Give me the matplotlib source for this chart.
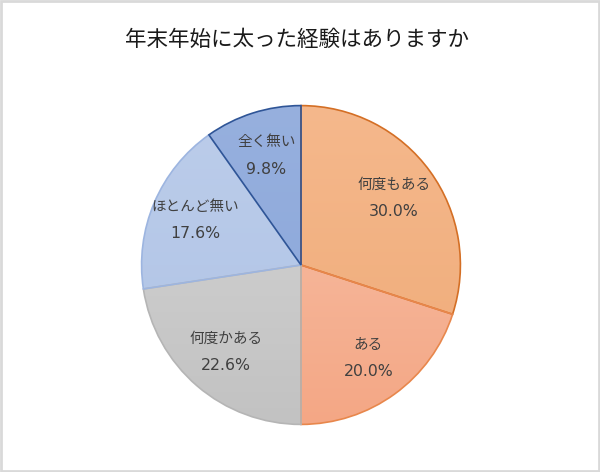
import numpy as np
import matplotlib.pyplot as plt
from matplotlib.colors import LinearSegmentedColormap
from matplotlib.patches import Rectangle
from matplotlib.transforms import offset_copy

plt.rcParams['font.family'] = ['Noto Sans CJK JP', 'DejaVu Sans']

# Data
labels = ['何度もある', 'ある', '何度かある', 'ほとんど無い', '全く無い']
values = [30.0, 20.0, 22.6, 17.6, 9.8]
title = '年末年始に太った経験はありますか'

# Styles (top colour, bottom colour, edge colour)
top_colors = ['#F5B88C', '#F7C2AA', '#D6D6D6', '#BCCDEA', '#97B0DE']
bottom_colors = ['#EFAB78', '#F4A785', '#C2C2C2', '#AFC3E6', '#88A5DA']
edge_colors = ['#D46F25', '#E8874C', '#B5B5B5', '#9DB5E0', '#2F5597']

fig = plt.figure(figsize=(6.0, 4.72), dpi=100)
cx, cy, r = 301, 472 - 265, 161
ax = fig.add_axes([(cx - r) / 600, (cy - r) / 472, 2 * r / 600, 2 * r / 472])

wedges, txts, pcts = ax.pie(values, labels=labels, startangle=90,
                            counterclock=False, colors=top_colors,
                            labeldistance=0.72, pctdistance=0.72, radius=1,
                            autopct='%.1f%%',
                            wedgeprops=dict(linewidth=1.2),
                            textprops=dict(color='#404040'))

for w, c1, c2, ec in zip(wedges, top_colors, bottom_colors, edge_colors):
    w.set_edgecolor(ec)
    cmap = LinearSegmentedColormap.from_list('g', [c2, c1])
    grad = np.linspace(0, 1, 256).reshape(-1, 1)
    im = ax.imshow(grad, cmap=cmap, extent=[-1, 1, -1, 1], origin='lower',
                   aspect='auto', zorder=w.get_zorder() - 0.1)
    im.set_clip_path(w)
    w.set_facecolor('none')

for t in txts:
    t.set_fontsize(10.5)
    t.set_horizontalalignment('center')
    t.set_verticalalignment('center')
    t.set_transform(offset_copy(ax.transData, fig=fig, y=9.5, units='points'))
    t.set_zorder(5)
for t in pcts:
    t.set_fontsize(11.3)
    t.set_family('DejaVu Sans')
    t.set_horizontalalignment('center')
    t.set_verticalalignment('center')
    t.set_transform(offset_copy(ax.transData, fig=fig, y=-10, units='points'))
    t.set_zorder(5)

ax.set_xlim(-1.01, 1.01)
ax.set_ylim(-1.01, 1.01)
ax.set_aspect('equal')
ax.axis('off')

fig.text(0.495, 1 - 40 / 472, title, ha='center', va='center',
         fontsize=15.5, color='#1a1a1a')

fig.patches.append(Rectangle((0.002, 0.002), 0.996, 0.996,
                             transform=fig.transFigure, fill=False,
                             edgecolor='#D9D9D9', linewidth=2))

fig.savefig('out.png', dpi=100, facecolor='white')
